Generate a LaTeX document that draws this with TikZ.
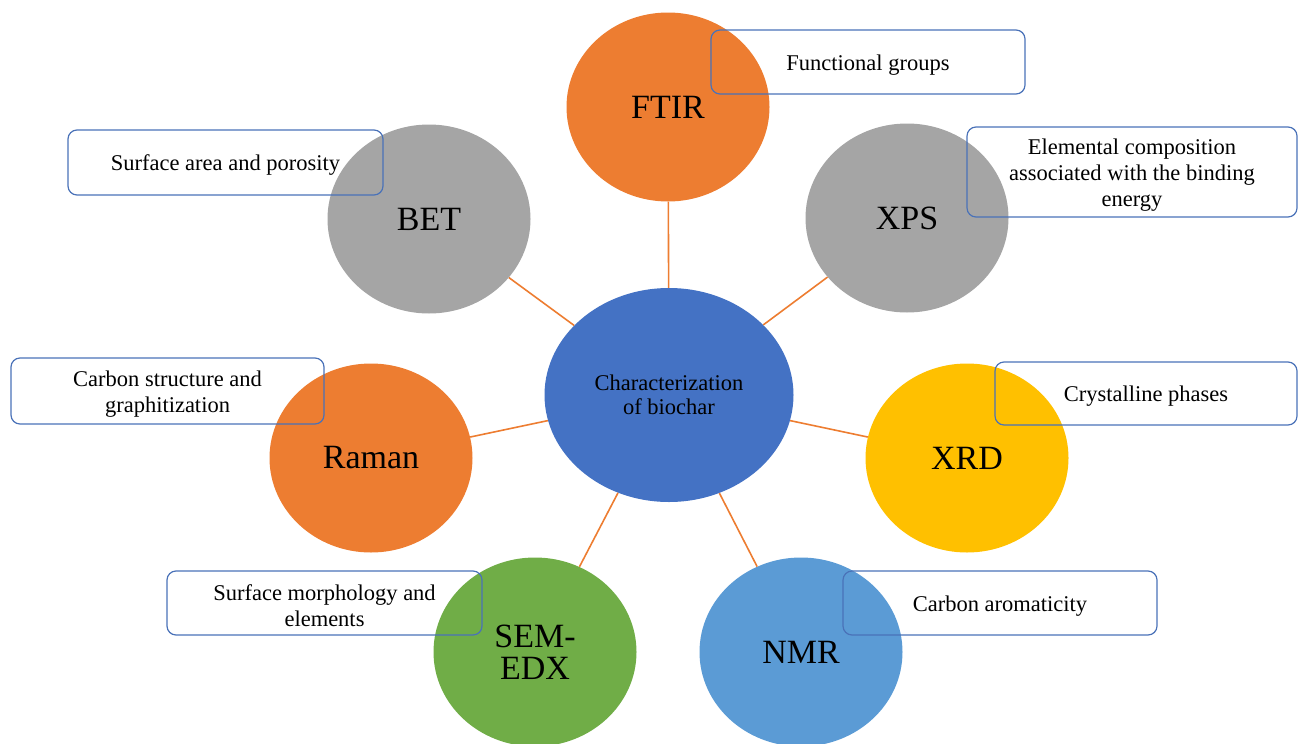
\documentclass[tikz,border=0pt]{standalone}
\usepackage{fontspec}
\setmainfont{Liberation Serif}
\usetikzlibrary{shapes.geometric}
\definecolor{corange}{HTML}{ED7D31}
\definecolor{cgray}{HTML}{A5A5A5}
\definecolor{cblue}{HTML}{4472C4}
\definecolor{cyellow}{HTML}{FFC000}
\definecolor{cgreen}{HTML}{70AD47}
\definecolor{clblue}{HTML}{5B9BD5}
\definecolor{cborder}{HTML}{4A72B8}
\tikzset{
  tech/.style={ellipse, inner sep=0pt, minimum width=203pt, minimum height=189pt,
    font=\fontsize{34}{34}\selectfont, align=center, text=black},
  hub/.style={ellipse, inner sep=0pt, minimum width=249pt, minimum height=214pt,
    fill=cblue, font=\fontsize{22.5}{24}\selectfont, align=center},
  infobox/.style={draw=cborder, line width=1.2pt, rounded corners=9pt, inner sep=0pt,
    minimum height=64pt},
  infotext/.style={label={[font=\fontsize{22.5}{26}\selectfont, align=center, inner sep=0pt, yshift=-3pt]center:#1}},
  link/.style={draw=corange, line width=1.6pt}
}
\begin{document}
\begin{tikzpicture}[x=1pt,y=-1pt]
\useasboundingbox (0,0) rectangle (1298,744);
% hub
\node[hub] (hub) at (669,395) {Characterization\\of biochar};
% satellites
\node[tech, fill=corange] (ftir) at (668,107) {FTIR};
\node[tech, fill=cgray] (bet) at (429,219) {BET};
\node[tech, fill=cgray] (xps) at (907,218) {XPS};
\node[tech, fill=corange] (raman) at (371,458) {Raman};
\node[tech, fill=cyellow] (xrd) at (967,458) {XRD};
\node[tech, fill=cgreen, font=\fontsize{34}{32}\selectfont] (sem) at (535,652) {SEM-\\EDX};
\node[tech, fill=clblue] (nmr) at (801,652) {NMR};
% connectors
\foreach \t in {ftir,bet,xps,raman,xrd,sem,nmr}{
  \path[link] (hub) -- (\t);
}
% info boxes
\node[infobox, minimum width=314pt, infotext={Functional groups}] (bftir) at (868,62) {};
\node[infobox, minimum width=315pt, minimum height=65pt, infotext={Surface area and porosity}] (bbet) at (225.5,162.5) {};
\node[infobox, minimum width=330pt, minimum height=90pt, infotext={Elemental composition\\associated with the binding\\energy}] (bxps) at (1132,172) {};
\node[infobox, minimum width=313pt, minimum height=66pt, infotext={Carbon structure and\\graphitization}] (braman) at (167.5,391) {};
\node[infobox, minimum width=302pt, minimum height=63pt, infotext={Crystalline phases}] (bxrd) at (1146,393.5) {};
\node[infobox, minimum width=315pt, infotext={Surface morphology and\\elements}] (bsem) at (324.5,603) {};
\node[infobox, minimum width=314pt, infotext={Carbon aromaticity}] (bnmr) at (1000,603) {};
\end{tikzpicture}
\end{document}
